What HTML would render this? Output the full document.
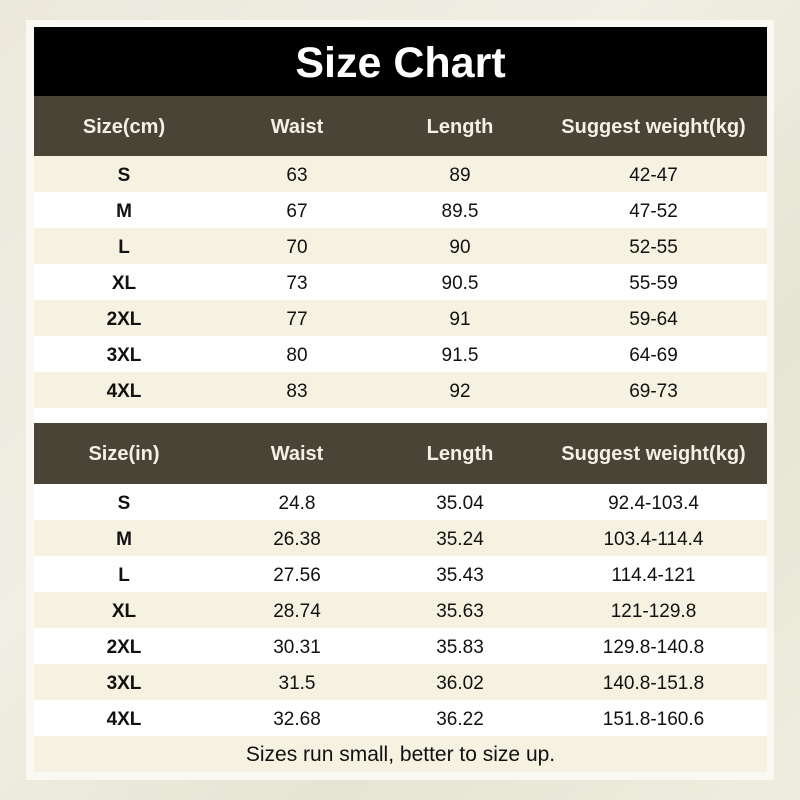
<!DOCTYPE html>
<html><head><style>
body{margin:0;width:800px;height:800px;background:linear-gradient(135deg,#ebe8dc,#f1efe3 40%,#e6e4d4 70%,#efeddf);font-family:"Liberation Sans",Arial,sans-serif;position:relative;overflow:hidden}
.frame{position:absolute;left:26px;top:20px;width:748px;height:760px;background:#f9f8f2}
.box{position:absolute;left:34px;width:733px}
.title{position:absolute;left:34px;top:27px;width:733px;height:69px;background:#000;color:#fff;font-weight:bold;font-size:43px;text-align:center;line-height:72px}
.row{display:flex;height:36px;line-height:39px;font-size:19px;color:#111;overflow:hidden}
.row div{text-align:center}
.c1{width:180px;font-weight:bold}.c2{width:166px}.c3{width:160px}.c4{width:227px}
.hd{height:60px;line-height:62px;background:#4a4437;color:#f3f0e6;font-weight:bold;font-size:20px}
.hd div{font-weight:bold}
.a{background:#f5f2e1}.b{background:#fff}
.foot{height:36px;line-height:38px;background:#f5f2e1;text-align:center;font-size:21px;color:#111}
</style></head><body>
<div class="frame"></div>
<div class="title">Size Chart</div>
<div class="box" style="top:96px">
<div class="row hd"><div class="c1">Size(cm)</div><div class="c2">Waist</div><div class="c3">Length</div><div class="c4">Suggest weight(kg)</div></div>
<div class="row a"><div class="c1">S</div><div class="c2">63</div><div class="c3">89</div><div class="c4">42-47</div></div>
<div class="row b"><div class="c1">M</div><div class="c2">67</div><div class="c3">89.5</div><div class="c4">47-52</div></div>
<div class="row a"><div class="c1">L</div><div class="c2">70</div><div class="c3">90</div><div class="c4">52-55</div></div>
<div class="row b"><div class="c1">XL</div><div class="c2">73</div><div class="c3">90.5</div><div class="c4">55-59</div></div>
<div class="row a"><div class="c1">2XL</div><div class="c2">77</div><div class="c3">91</div><div class="c4">59-64</div></div>
<div class="row b"><div class="c1">3XL</div><div class="c2">80</div><div class="c3">91.5</div><div class="c4">64-69</div></div>
<div class="row a"><div class="c1">4XL</div><div class="c2">83</div><div class="c3">92</div><div class="c4">69-73</div></div>
</div>
<div class="box" style="top:408px;height:15px;background:#fff"></div>
<div class="box" style="top:423px">
<div class="row hd" style="height:61px"><div class="c1">Size(in)</div><div class="c2">Waist</div><div class="c3">Length</div><div class="c4">Suggest weight(kg)</div></div>
<div class="row b"><div class="c1">S</div><div class="c2">24.8</div><div class="c3">35.04</div><div class="c4">92.4-103.4</div></div>
<div class="row a"><div class="c1">M</div><div class="c2">26.38</div><div class="c3">35.24</div><div class="c4">103.4-114.4</div></div>
<div class="row b"><div class="c1">L</div><div class="c2">27.56</div><div class="c3">35.43</div><div class="c4">114.4-121</div></div>
<div class="row a"><div class="c1">XL</div><div class="c2">28.74</div><div class="c3">35.63</div><div class="c4">121-129.8</div></div>
<div class="row b"><div class="c1">2XL</div><div class="c2">30.31</div><div class="c3">35.83</div><div class="c4">129.8-140.8</div></div>
<div class="row a"><div class="c1">3XL</div><div class="c2">31.5</div><div class="c3">36.02</div><div class="c4">140.8-151.8</div></div>
<div class="row b"><div class="c1">4XL</div><div class="c2">32.68</div><div class="c3">36.22</div><div class="c4">151.8-160.6</div></div>
<div class="foot">Sizes run small, better to size up.</div>
</div>
</body></html>
